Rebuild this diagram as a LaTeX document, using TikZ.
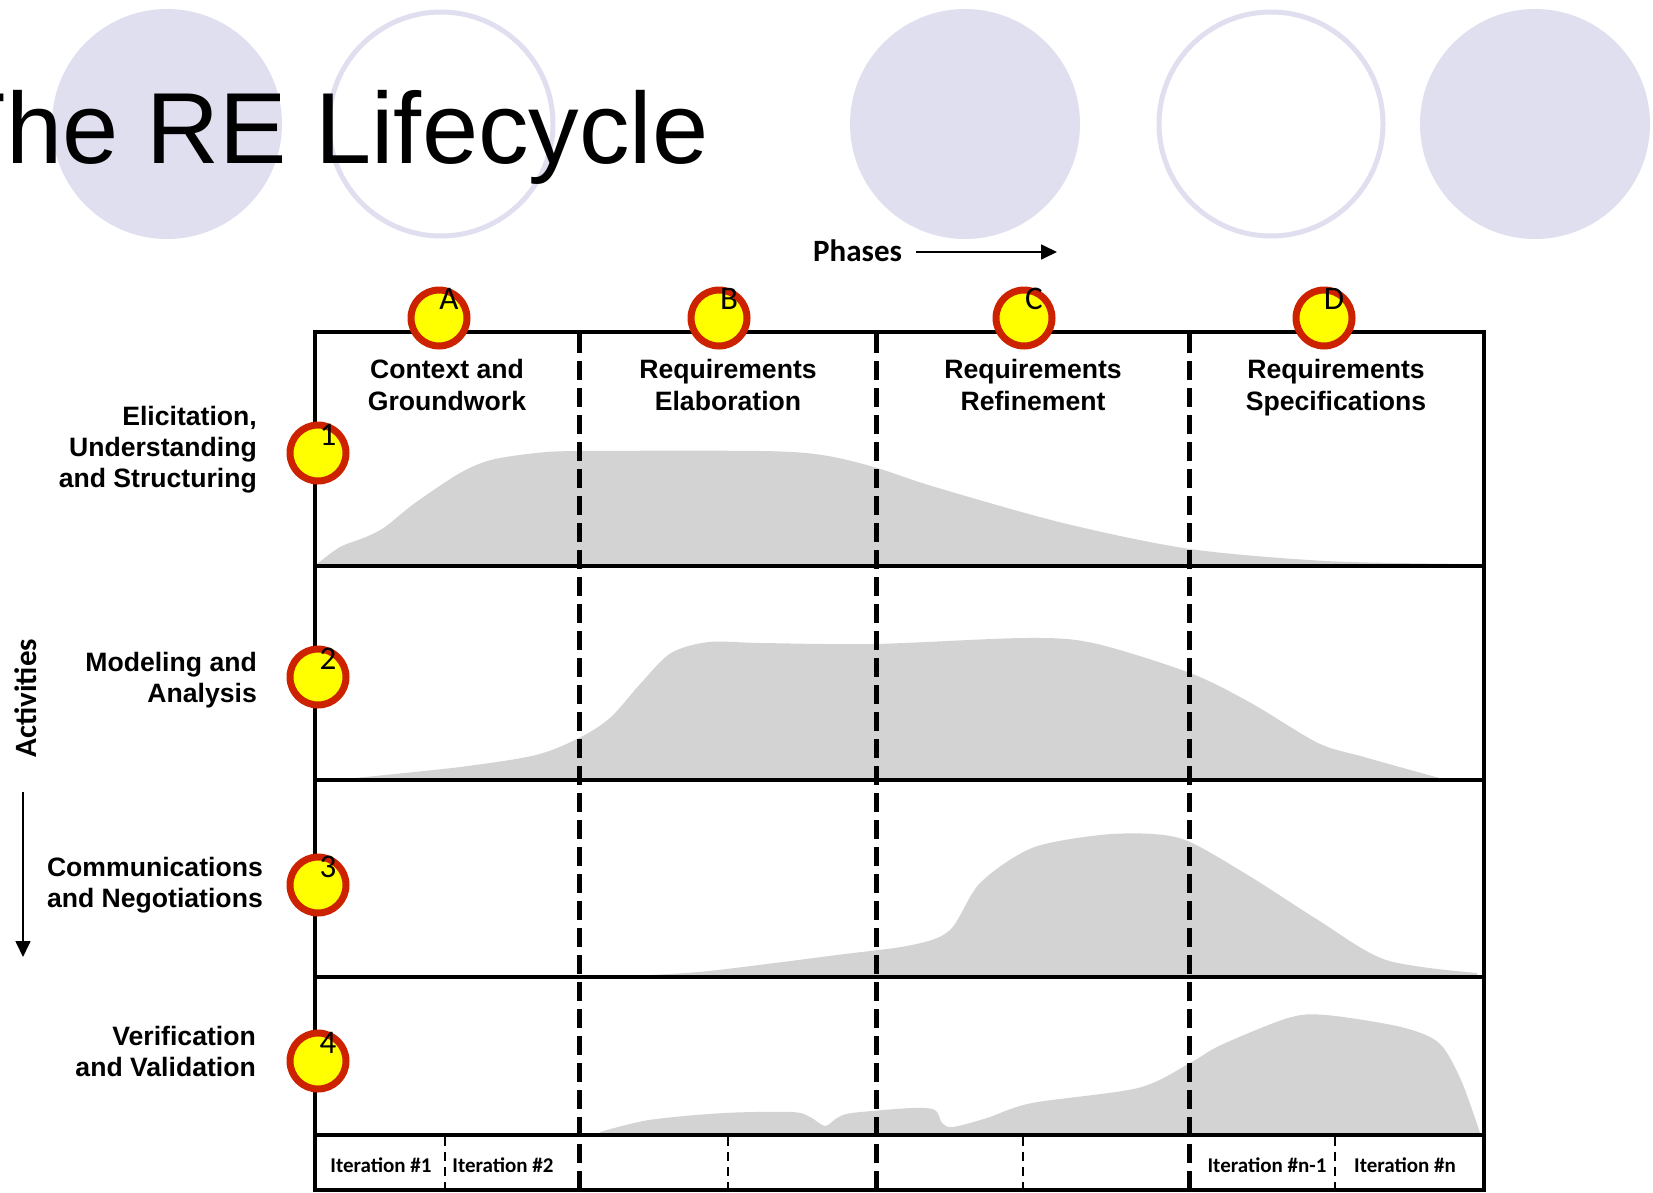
\documentclass[tikz,border=0pt]{standalone}
\usepackage{fontspec}
\setmainfont{Liberation Sans}
\newfontfamily\carlito{Carlito}
\usetikzlibrary{arrows.meta}
\definecolor{lav}{RGB}{223,223,240}
\definecolor{areagray}{RGB}{211,211,211}
\definecolor{bulred}{RGB}{204,34,0}
\definecolor{bulyel}{RGB}{255,255,0}
\tikzset{
  area/.style={fill=areagray},
  ring/.style={draw=lav, line width=5pt},
  disc/.style={fill=lav},
  gridline/.style={line width=4pt},
  phaseline/.style={line width=5pt, dash pattern=on 19pt off 8pt},
  iterline/.style={line width=1.5pt, dash pattern=on 9pt off 6pt},
  bullet/.style={circle, draw=bulred, fill=bulyel, line width=7pt, minimum size=56pt, inner sep=0pt},
  bulletlabel/.style={font=\carlito\fontsize{33}{33}\selectfont, inner sep=0pt, anchor=base},
  head/.style={font=\fontsize{26.6}{32}\selectfont\bfseries, align=center, inner sep=0pt, anchor=north},
  rowlab/.style={font=\fontsize{26.6}{31}\selectfont\bfseries, align=right, inner sep=0pt, anchor=north east},
  iterlab/.style={font=\carlito\bfseries\fontsize{21}{21}\selectfont, inner sep=0pt, anchor=base},
  axislab/.style={font=\carlito\bfseries\fontsize{31}{31}\selectfont, inner sep=0pt},
  axisarrow/.style={line width=1.6pt, -{Triangle[width=15pt,length=16pt]}}
}
\begin{document}
\begin{tikzpicture}[x=1pt,y=-1pt]
\clip (0,0) rectangle (1653,1192);
\fill[white] (0,0) rectangle (1653,1192);
% background circles
\fill[disc] (167,124) circle (115pt);
\draw[ring] (441,124) circle (112pt);
\fill[disc] (965,124) circle (115pt);
\draw[ring] (1271,124) circle (112pt);
\fill[disc] (1535,124) circle (115pt);
% title
\node[font=\fontsize{101}{101}\selectfont, inner sep=0pt, outer sep=0pt, anchor=base west] (title) at (-55,163) {The RE Lifecycle};
% phases axis
\node[axislab, anchor=base west] (phases) at (813,261) {Phases};
\coordinate (pa) at (916,252);
\coordinate (pb) at (1057,252);
\draw[axisarrow] (pa) -- (pb);
% activities axis
\node[axislab, rotate=90] (activities) at (26,698) {Activities};
\coordinate (aa) at (23,792);
\coordinate (ab) at (23,957);
\draw[axisarrow] (aa) -- (ab);
% grey areas
\fill[area] (317,566) -- plot[smooth,tension=0.5] coordinates {(317,564) (340,547) (366,537) (385,527) (415,503) (460,473) (491,460) (536,453) (581,451) (761,451) (822,455) (874,467) (935,487) (1063,523) (1190,549) (1326,561) (1461,564) (1477,565)} -- (1477,566) -- cycle;
\fill[area] (355,780) -- plot[smooth,tension=0.5] coordinates {(355,778) (460,767) (536,755) (581,737) (611,717) (641,683) (671,653) (709,642) (761,643) (874,644) (1025,638) (1093,643) (1190,673) (1251,703) (1318,743) (1364,757) (1443,779)} -- (1443,780) -- cycle;
\fill[area] (648,977) -- plot[smooth,tension=0.5] coordinates {(648,975) (709,971) (837,955) (912,945) (950,930) (980,883) (1032,848) (1100,835) (1153,834) (1190,842) (1251,877) (1318,920) (1386,960) (1477,973)} -- (1477,977) -- cycle;
\fill[area] (600,1135) -- plot[smooth,tension=0.5] coordinates {(600,1132) (649,1120) (724,1113) (792,1112) (810,1117) (825,1126) (837,1118) (852,1113) (912,1108) (935,1110) (942,1123) (953,1127) (987,1118) (1032,1103) (1138,1088) (1190,1063) (1221,1045) (1288,1018) (1326,1015) (1401,1027) (1439,1043) (1461,1080) (1480,1133)} -- (1480,1135) -- cycle;
% grid
\draw[gridline] (315,332) rectangle (1484,1190);
\draw[gridline] (315,566) -- (1484,566);
\draw[gridline] (315,780) -- (1484,780);
\draw[gridline] (315,977) -- (1484,977);
\draw[gridline] (315,1135) -- (1484,1135);
\draw[phaseline] (579,334) -- (579,1188);
\draw[phaseline] (876,334) -- (876,1188);
\draw[phaseline] (1189,334) -- (1189,1188);
\draw[iterline] (445,1137) -- (445,1188);
\draw[iterline] (728,1137) -- (728,1188);
\draw[iterline] (1023,1137) -- (1023,1188);
\draw[iterline] (1335,1137) -- (1335,1188);
% phase headings
\node[head] (hA) at (447,359) {Context and\\Groundwork};
\node[head] (hB) at (728,359) {Requirements\\Elaboration};
\node[head] (hC) at (1033,359) {Requirements\\Refinement};
\node[head] (hD) at (1336,359) {Requirements\\Specifications};
% row labels
\node[rowlab] (r1) at (257,406) {Elicitation,\\Understanding\\and Structuring};
\node[rowlab] (r2) at (257,652) {Modeling and\\Analysis};
\node[rowlab] (r3) at (263,857) {Communications\\and Negotiations};
\node[rowlab] (r4) at (256,1026) {Verification\\and Validation};
% bullets
\node[bullet] (bA) at (439,318) {};
\node[bullet] (bB) at (719,318) {};
\node[bullet] (bC) at (1024,318) {};
\node[bullet] (bD) at (1324,318) {};
\node[bullet] (b1) at (318,453) {};
\node[bullet] (b2) at (318,677) {};
\node[bullet] (b3) at (318,885) {};
\node[bullet] (b4) at (318,1061) {};
\node[bulletlabel] (lA) at (449,309) {A};
\node[bulletlabel] (lB) at (729,309) {B};
\node[bulletlabel] (lC) at (1034,309) {C};
\node[bulletlabel] (lD) at (1334,309) {D};
\node[bulletlabel] (l1) at (328,445) {1};
\node[bulletlabel] (l2) at (328,669) {2};
\node[bulletlabel] (l3) at (328,877) {3};
\node[bulletlabel] (l4) at (328,1053) {4};
% iteration labels
\node[iterlab] (i1) at (381,1172) {Iteration \#1};
\node[iterlab] (i2) at (503,1172) {Iteration \#2};
\node[iterlab] (i3) at (1267,1172) {Iteration \#n-1};
\node[iterlab] (i4) at (1405,1172) {Iteration \#n};
\end{tikzpicture}
\end{document}
